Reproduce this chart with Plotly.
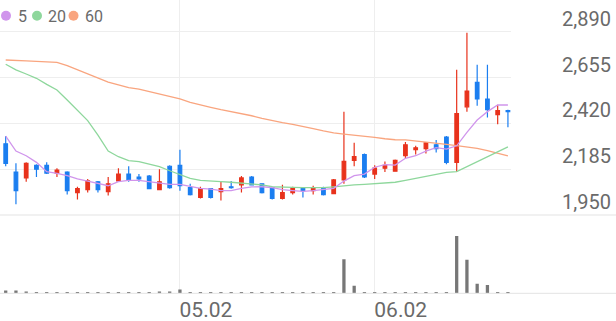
import plotly.graph_objects as go

# ---------------- data ----------------
dates = ["04.08", "04.09", "04.10", "04.11", "04.14", "04.15", "04.16", "04.17", "04.18", "04.21",
         "04.22", "04.23", "04.24", "04.25", "04.28", "04.29", "04.30", "05.02", "05.07", "05.08",
         "05.09", "05.12", "05.13", "05.14", "05.15", "05.16", "05.19", "05.20", "05.21", "05.22",
         "05.23", "05.26", "05.27", "05.28", "05.29", "05.30", "06.02", "06.04", "06.05", "06.09",
         "06.10", "06.11", "06.12", "06.13", "06.16", "06.17", "06.18", "06.19", "06.20", "06.23"]

opens = [2315, 2170, 2140, 2205, 2205, 2165, 2170, 2065, 2080, 2120,
         2070, 2125, 2160, 2145, 2150, 2080, 2200, 2205, 2090, 2040,
         2085, 2070, 2095, 2105, 2145, 2110, 2090, 2035, 2065, 2085,
         2075, 2090, 2060, 2130, 2230, 2260, 2160, 2190, 2175, 2255,
         2285, 2290, 2310, 2350, 2220, 2505, 2630, 2545, 2465, 2485]
highs = [2355, 2215, 2220, 2210, 2220, 2190, 2175, 2095, 2135, 2125,
         2145, 2190, 2200, 2160, 2155, 2185, 2205, 2285, 2110, 2095,
         2085, 2125, 2125, 2150, 2150, 2110, 2095, 2105, 2095, 2085,
         2100, 2095, 2135, 2480, 2320, 2265, 2205, 2225, 2235, 2325,
         2305, 2325, 2335, 2355, 2695, 2885, 2720, 2720, 2515, 2490]
lows = [2200, 2005, 2120, 2145, 2160, 2145, 2055, 2030, 2065, 2065,
        2050, 2120, 2120, 2120, 2085, 2080, 2085, 2075, 2050, 2035,
        2035, 2025, 2085, 2065, 2105, 2060, 2030, 2030, 2055, 2040,
        2055, 2050, 2060, 2110, 2200, 2140, 2135, 2170, 2175, 2240,
        2260, 2265, 2270, 2210, 2170, 2480, 2510, 2450, 2415, 2400]
closes = [2215, 2075, 2215, 2185, 2165, 2180, 2075, 2085, 2125, 2080,
          2110, 2160, 2130, 2135, 2085, 2120, 2090, 2100, 2055, 2085,
          2040, 2085, 2090, 2140, 2105, 2065, 2035, 2065, 2085, 2075,
          2090, 2055, 2130, 2225, 2250, 2145, 2190, 2205, 2230, 2310,
          2295, 2320, 2290, 2220, 2470, 2585, 2545, 2490, 2485, 2480]
volume = [54, 54, 34, 14, 14, 20, 20, 14, 14, 14,
          14, 14, 14, 20, 26, 34, 34, 74, 26, 14,
          14, 14, 14, 14, 14, 14, 14, 14, 14, 14,
          14, 14, 14, 686, 154, 26, 14, 12, 12, 12,
          12, 12, 12, 12, 1154, 674, 194, 166, 26, 8]

ma5 = [2355, 2278, 2254, 2220, 2172, 2164, 2152, 2135, 2124, 2112,
       2100, 2121, 2128, 2128, 2121, 2112, 2107, 2107, 2097, 2087,
       2083, 2075, 2075, 2087, 2094, 2095, 2090, 2080, 2075, 2071,
       2075, 2080, 2087, 2124, 2152, 2160, 2195, 2208, 2206, 2241,
       2254, 2278, 2295, 2288, 2305, 2374, 2437, 2480, 2514, 2514]
ma20 = [2723, 2694, 2673, 2651, 2620, 2591, 2540, 2488, 2434, 2360,
        2278, 2249, 2229, 2224, 2212, 2198, 2177, 2159, 2138, 2128,
        2123, 2121, 2118, 2114, 2111, 2104, 2095, 2092, 2092, 2090,
        2090, 2090, 2094, 2100, 2104, 2107, 2111, 2114, 2118, 2128,
        2138, 2147, 2159, 2169, 2172, 2198, 2224, 2249, 2275, 2299]
ma60 = [2745, 2741, 2740, 2738, 2736, 2733, 2716, 2694, 2673, 2651,
        2632, 2617, 2603, 2596, 2583, 2571, 2560, 2545, 2528, 2514,
        2502, 2490, 2480, 2471, 2459, 2446, 2434, 2424, 2415, 2405,
        2393, 2381, 2371, 2365, 2360, 2355, 2348, 2341, 2336, 2335,
        2330, 2323, 2318, 2312, 2306, 2300, 2292, 2280, 2266, 2253]

price_ticks = [1950, 2185, 2420, 2655, 2890]
date_ticks = ["05.02", "06.02"]
ma_names = ["5", "20", "60"]

# ---------------- style ----------------
RED = "#e8321c"
BLUE = "#1b7ef0"
MA_COLORS = {"5": "#d095ec", "20": "#8ed79c", "60": "#f9a57f"}
GRID = "#eeeeee"
TEXT = "#6a6a6a"
FONT = "Roboto"

W, H = 616, 321
plot_right = 511 / W
price_bottom = (H - 215) / H
vol_bottom = (H - 293.3) / H

fig = go.Figure()

for name, vals in [("60", ma60), ("20", ma20), ("5", ma5)]:
    fig.add_trace(go.Scatter(x=dates, y=vals, mode="lines", name=name,
                             line=dict(color=MA_COLORS[name], width=1.3),
                             xaxis="x", yaxis="y", hoverinfo="skip"))

fig.add_trace(go.Candlestick(
    x=dates, open=opens, high=highs, low=lows, close=closes,
    increasing=dict(line=dict(color=RED, width=1.2), fillcolor=RED),
    decreasing=dict(line=dict(color=BLUE, width=1.2), fillcolor=BLUE),
    whiskerwidth=0, xaxis="x", yaxis="y", name="price"))

fig.add_trace(go.Bar(x=dates, y=volume, marker=dict(color="#777777", line=dict(width=0)),
                     width=0.32, xaxis="x2", yaxis="y2", name="volume"))

shapes = [
    dict(type="line", xref="paper", yref="paper", x0=0, x1=1, y0=price_bottom, y1=price_bottom,
         line=dict(color="#e3e3e3", width=1)),
    dict(type="line", xref="paper", yref="paper", x0=0, x1=1, y0=vol_bottom, y1=vol_bottom,
         line=dict(color="#e3e3e3", width=1)),
]

# legend: dots + labels
legend_dots = [6, 37, 73.5]
legend_text = [15.5, 45.5, 82.5]
annotations = []
for name, cx, tx in zip(ma_names, legend_dots, legend_text):
    shapes.append(dict(type="circle", xref="paper", yref="paper",
                       x0=(cx - 5) / W, x1=(cx + 5) / W,
                       y0=1 - 20.7 / H, y1=1 - 10.7 / H,
                       fillcolor=MA_COLORS[name], line=dict(width=0)))
    annotations.append(dict(xref="paper", yref="paper", x=tx / W, y=1 - 16 / H,
                            xanchor="left", yanchor="middle", text=name, showarrow=False,
                            font=dict(family=FONT, size=16, color=TEXT)))

vol_max = max(volume)

fig.update_layout(
    width=W, height=H,
    margin=dict(l=0, r=0, t=0, b=0),
    paper_bgcolor="white", plot_bgcolor="white",
    showlegend=False,
    boxgap=0.5,
    font=dict(family=FONT, color=TEXT),
    shapes=shapes,
    annotations=annotations,
    xaxis=dict(domain=[0, plot_right], anchor="y", type="category",
               range=[-0.556, 49.3], tickvals=date_ticks, showticklabels=False,
               showgrid=True, gridcolor=GRID, gridwidth=1, zeroline=False, showline=False,
               ticks="", rangeslider=dict(visible=False), fixedrange=True),
    yaxis=dict(domain=[price_bottom, 1], anchor="x", side="right",
               range=[1950, 3052.6], tickvals=price_ticks,
               ticktext=[f"{v:,}" for v in price_ticks],
               showgrid=True, gridcolor=GRID, gridwidth=1, zeroline=False, showline=False,
               ticks="", ticklabelposition="outside", ticklabelstandoff=50,
               ticklabelshift=-13, tickfont=dict(family=FONT, size=20, color=TEXT),
               automargin=False, fixedrange=True),
    xaxis2=dict(domain=[0, plot_right], anchor="y2", type="category", matches="x",
                tickvals=date_ticks, showgrid=True, gridcolor=GRID, gridwidth=1,
                zeroline=False, showline=False, ticks="",
                ticklabelshift=26, ticklabelstandoff=2,
                tickfont=dict(family=FONT, size=21, color=TEXT),
                automargin=False, fixedrange=True),
    yaxis2=dict(domain=[vol_bottom, price_bottom], anchor="x2",
                range=[0, vol_max / 0.732], showticklabels=False, showgrid=False,
                zeroline=False, showline=False, ticks="", fixedrange=True),
)

fig.write_html("out.html")
